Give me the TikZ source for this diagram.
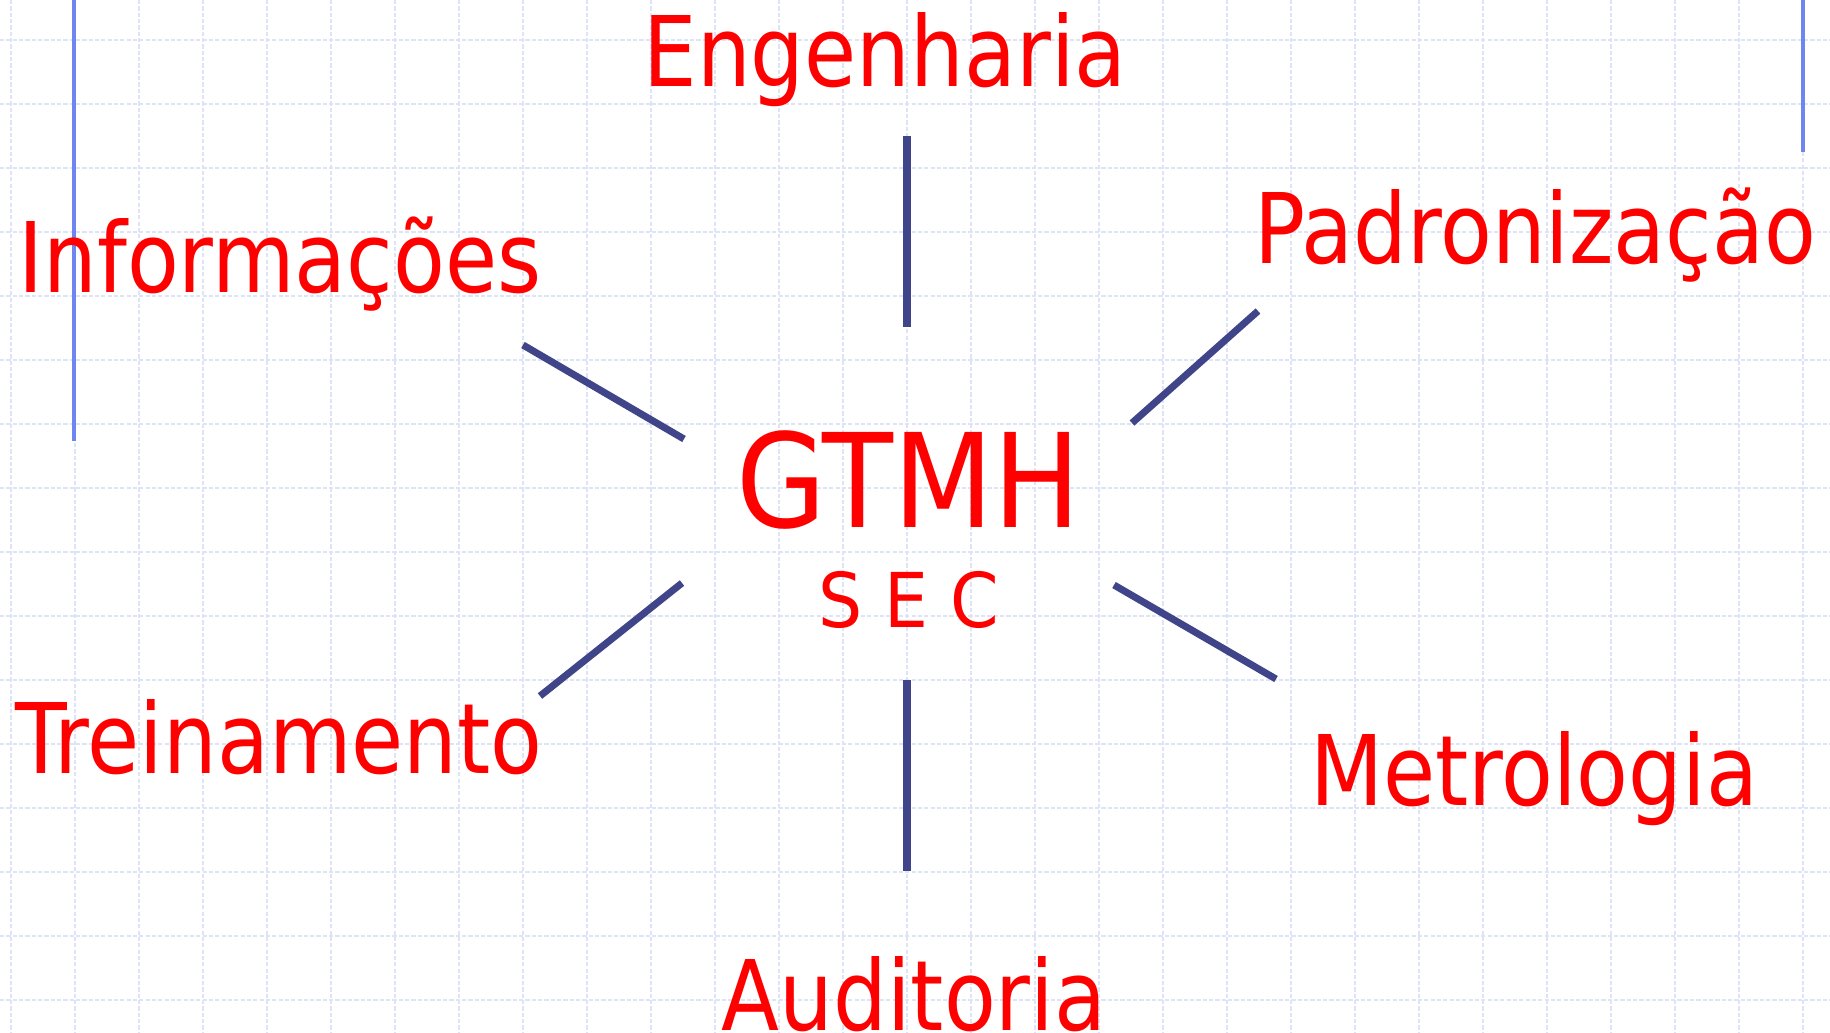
\documentclass[tikz,border=0pt]{standalone}
\usepackage{fontspec}
\setmainfont{DejaVu Sans}[FakeStretch=0.87]
\newfontfamily\gtmhfont{DejaVu Sans}[FakeStretch=0.89]
\newfontfamily\secfont{DejaVu Sans}[FakeStretch=0.92]
\definecolor{gridc}{HTML}{DCE4F6}
\definecolor{bluel}{HTML}{6F86F0}
\definecolor{linkc}{HTML}{3F4588}
\definecolor{txtred}{HTML}{FF0000}
\tikzset{
  gridline/.style={gridc, line width=0.6pt, dash pattern=on 1.2pt off 0.6pt},
  marginline/.style={bluel, line width=0.9pt},
  link/.style={linkc, line width=2pt},
  label/.style={text=txtred, inner sep=0pt, anchor=base, font=\fontsize{27.7pt}{30pt}\selectfont},
}
\begin{document}
\begin{tikzpicture}[x=0.01cm, y=-0.01cm]
\useasboundingbox (0,0) rectangle (1830,1032);
\fill[white] (0,0) rectangle (1830,1032);
% grid
\foreach \k in {0,...,28} { \draw[gridline] (11+64*\k,0) -- (11+64*\k,1032); }
\foreach \k in {0,...,15} { \draw[gridline] (0,40+64*\k) -- (1830,40+64*\k); }
% margin lines
\coordinate (ml1) at (74,0);
\coordinate (ml2) at (74,441);
\coordinate (mr1) at (1803,0);
\coordinate (mr2) at (1803,152);
\draw[marginline] (ml1) -- (ml2);
\draw[marginline] (mr1) -- (mr2);
% labels
\node[label] (eng) at (885,86) {Engenharia};
\node[label] (inf) at (280,292) {Informações};
\node[label] (pad) at (1535,263) {Padronização};
\node[label] (tre) at (279,773) {Treinamento};
\node[label] (met) at (1534,805) {Metrologia};
\node[label] (aud) at (914,1030) {Auditoria};
\node[label, font=\gtmhfont\fontsize{37.1pt}{40pt}\selectfont] (gtmh) at (909,527) {GTMH};
\node[label, font=\secfont\fontsize{21.5pt}{24pt}\selectfont] (sec) at (909,627) {S E C};
% connectors
\coordinate (t1) at (907,136);  \coordinate (t2) at (907,327);
\coordinate (b1) at (907,680);  \coordinate (b2) at (907,871);
\coordinate (ul1) at (523,345); \coordinate (ul2) at (684,439);
\coordinate (ur1) at (1132,423); \coordinate (ur2) at (1258,311);
\coordinate (ll1) at (540,696); \coordinate (ll2) at (682,583);
\coordinate (lr1) at (1114,585); \coordinate (lr2) at (1276,679);
\draw[link] (t1) -- (t2);
\draw[link] (b1) -- (b2);
\draw[link] (ul1) -- (ul2);
\draw[link] (ur1) -- (ur2);
\draw[link] (ll1) -- (ll2);
\draw[link] (lr1) -- (lr2);
\end{tikzpicture}
\end{document}
